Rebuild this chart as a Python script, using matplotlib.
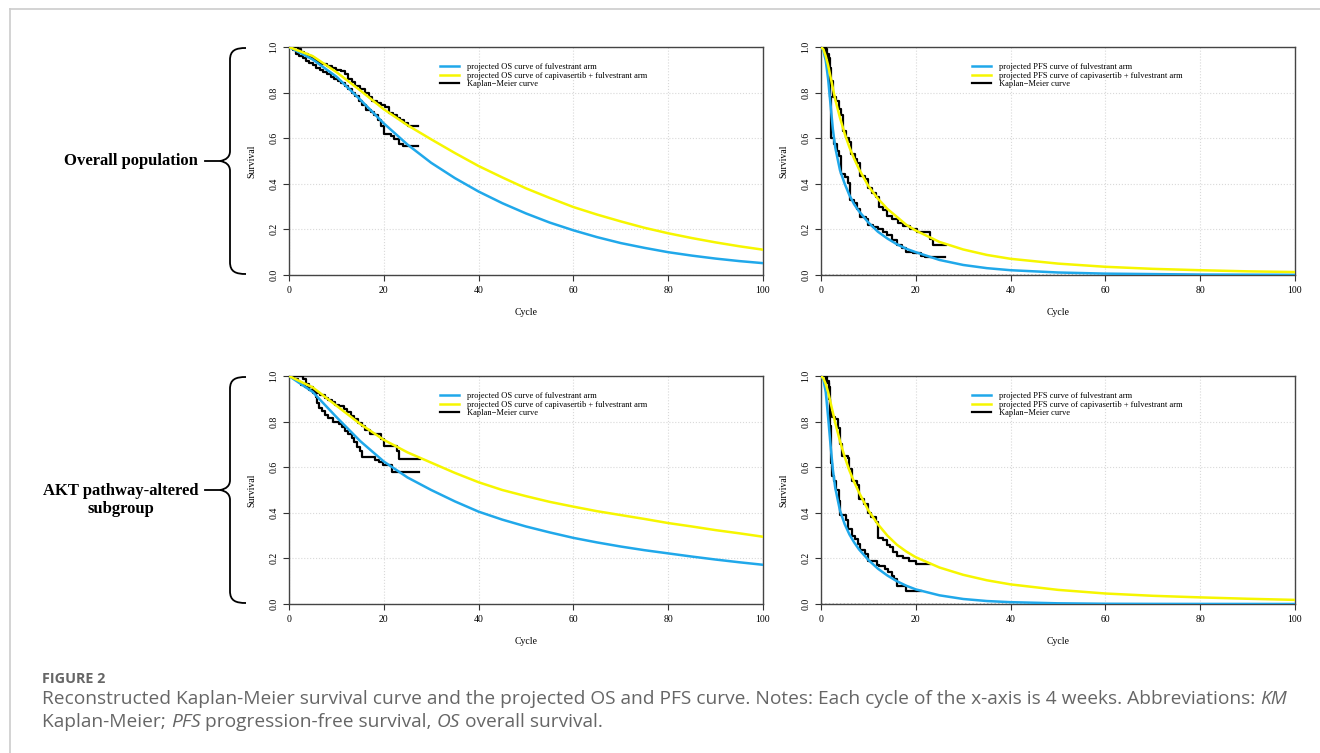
import numpy as np
import matplotlib
matplotlib.use("Agg")
import matplotlib.pyplot as plt
from matplotlib.path import Path
from matplotlib.patches import PathPatch
from matplotlib.lines import Line2D

W, H = 1320, 753

# ---- projected curves ----
os_cycles = list(range(0, 101, 5))
pfs_cycles = [0, 0.5, 1, 1.5, 2, 2.5, 3, 4, 5, 6, 7, 8, 10, 12, 14, 16, 18, 20,
              25, 30, 35, 40, 50, 60, 70, 80, 90, 100]

os_all_fulv = [1.0, 0.945, 0.87, 0.77, 0.665, 0.572, 0.492, 0.425, 0.366, 0.315, 0.27,
               0.23, 0.196, 0.166, 0.14, 0.119, 0.10, 0.085, 0.072, 0.061, 0.052]
os_all_capi = [1.0, 0.96, 0.89, 0.81, 0.727, 0.657, 0.595, 0.535, 0.478, 0.428, 0.38,
               0.338, 0.298, 0.265, 0.235, 0.207, 0.183, 0.162, 0.143, 0.126, 0.111]
os_akt_fulv = [1.0, 0.93, 0.82, 0.715, 0.625, 0.555, 0.50, 0.45, 0.405, 0.37, 0.34,
               0.314, 0.29, 0.27, 0.252, 0.236, 0.222, 0.208, 0.195, 0.183, 0.172]
os_akt_capi = [1.0, 0.95, 0.87, 0.79, 0.72, 0.665, 0.62, 0.575, 0.534, 0.50, 0.473,
               0.448, 0.427, 0.407, 0.39, 0.373, 0.355, 0.34, 0.324, 0.31, 0.295]

pfs_all_fulv = [1.0, 0.985, 0.94, 0.86, 0.75, 0.64, 0.56, 0.46, 0.40, 0.35, 0.31, 0.28,
                0.23, 0.19, 0.16, 0.135, 0.115, 0.10, 0.066, 0.044, 0.03, 0.021, 0.011,
                0.006, 0.004, 0.002, 0.0015, 0.001]
pfs_all_capi = [1.0, 0.99, 0.96, 0.92, 0.87, 0.82, 0.77, 0.69, 0.62, 0.56, 0.51, 0.465,
                0.39, 0.335, 0.29, 0.255, 0.22, 0.195, 0.145, 0.112, 0.088, 0.071, 0.05,
                0.036, 0.027, 0.021, 0.016, 0.013]
pfs_akt_fulv = [1.0, 0.985, 0.93, 0.82, 0.70, 0.59, 0.51, 0.41, 0.35, 0.305, 0.27, 0.24,
                0.193, 0.155, 0.125, 0.10, 0.08, 0.064, 0.038, 0.022, 0.013, 0.008, 0.003,
                0.001, 0.0005, 0.0003, 0.0002, 0.0001]
pfs_akt_capi = [1.0, 0.99, 0.965, 0.93, 0.885, 0.84, 0.795, 0.715, 0.645, 0.585, 0.535,
                0.49, 0.41, 0.35, 0.30, 0.26, 0.23, 0.205, 0.16, 0.128, 0.104, 0.086,
                0.062, 0.046, 0.036, 0.029, 0.023, 0.018]

# ---- reconstructed Kaplan-Meier steps ----
km_os_all_fulv_t = [0, 0.8, 1.5, 2.2, 3.0, 3.6, 4.3, 5.0, 5.8, 6.5, 7.2, 8.0, 8.8, 9.5,
                    10.3, 11.0, 11.8, 12.5, 13.2, 14.0, 14.8, 15.5, 16.3, 17.2, 18.0,
                    18.8, 19.5, 20.0, 21.5, 22.2, 23.3, 24.0, 27.2]
km_os_all_fulv_s = [1.0, 0.985, 0.97, 0.96, 0.95, 0.94, 0.93, 0.92, 0.91, 0.90, 0.89,
                    0.88, 0.87, 0.86, 0.85, 0.84, 0.83, 0.815, 0.80, 0.785, 0.765, 0.745,
                    0.725, 0.715, 0.70, 0.68, 0.655, 0.62, 0.61, 0.595, 0.575, 0.565, 0.565]
km_os_all_capi_t = [0, 1.8, 2.5, 3.2, 4.0, 4.8, 5.5, 6.3, 7.0, 8.0, 9.0, 10.0, 11.0,
                    11.8, 12.5, 13.2, 14.0, 15.0, 16.0, 16.8, 17.5, 18.5, 19.5, 20.3,
                    21.0, 22.0, 22.8, 23.5, 24.3, 25.0, 27.2]
km_os_all_capi_s = [1.0, 0.99, 0.98, 0.97, 0.96, 0.95, 0.94, 0.93, 0.925, 0.915, 0.91,
                    0.90, 0.895, 0.88, 0.86, 0.845, 0.83, 0.815, 0.80, 0.78, 0.765, 0.755,
                    0.745, 0.735, 0.71, 0.70, 0.69, 0.68, 0.665, 0.655, 0.655]
km_os_akt_fulv_t = [0, 1.0, 1.8, 2.6, 3.4, 4.2, 5.0, 5.6, 6.0, 6.4, 6.9, 7.5, 8.3, 9.2,
                    10.5, 11.2, 11.8, 12.5, 13.2, 13.8, 14.4, 15.0, 15.5, 18.2, 19.0,
                    19.8, 21.7, 27.4]
km_os_akt_fulv_s = [1.0, 0.985, 0.975, 0.96, 0.95, 0.94, 0.925, 0.91, 0.88, 0.86, 0.845,
                    0.83, 0.815, 0.80, 0.79, 0.775, 0.76, 0.745, 0.73, 0.71, 0.69, 0.67,
                    0.645, 0.63, 0.625, 0.61, 0.578, 0.578]
km_os_akt_capi_t = [0, 3.0, 3.6, 4.3, 5.0, 5.6, 6.5, 7.5, 8.3, 9.0, 9.8, 10.5, 11.5,
                    12.3, 13.0, 13.8, 14.5, 15.3, 16.0, 17.0, 19.5, 20.0, 22.8, 23.2, 27.6]
km_os_akt_capi_s = [1.0, 0.985, 0.965, 0.95, 0.935, 0.925, 0.915, 0.905, 0.895, 0.885,
                    0.875, 0.87, 0.855, 0.84, 0.825, 0.81, 0.795, 0.78, 0.765, 0.745,
                    0.725, 0.695, 0.67, 0.635, 0.635]

km_pfs_all_fulv_t = [0, 1.0, 1.6, 1.9, 2.2, 2.8, 3.3, 3.8, 4.3, 5.0, 5.8, 6.2, 7.0, 7.7,
                     8.2, 9.5, 10.0, 11.0, 12.0, 13.0, 14.0, 15.0, 16.0, 17.0, 18.0, 19.5,
                     21.0, 22.0, 26.2]
km_pfs_all_fulv_s = [1.0, 0.97, 0.90, 0.78, 0.60, 0.575, 0.545, 0.52, 0.445, 0.43, 0.405,
                     0.33, 0.315, 0.29, 0.255, 0.245, 0.22, 0.21, 0.20, 0.19, 0.175, 0.155,
                     0.13, 0.12, 0.10, 0.095, 0.085, 0.078, 0.078]
km_pfs_all_capi_t = [0, 0.8, 1.3, 1.8, 2.2, 2.6, 3.2, 3.7, 4.2, 4.6, 5.3, 5.9, 6.4, 7.2,
                     7.7, 8.3, 9.2, 10.0, 10.7, 11.5, 12.2, 13.0, 14.0, 15.0, 16.2, 17.3,
                     18.8, 20.3, 23.1, 23.6, 26.3]
km_pfs_all_capi_s = [1.0, 0.99, 0.95, 0.91, 0.85, 0.78, 0.765, 0.73, 0.70, 0.63, 0.60,
                     0.585, 0.53, 0.51, 0.49, 0.435, 0.42, 0.38, 0.36, 0.34, 0.30, 0.285,
                     0.26, 0.245, 0.23, 0.215, 0.20, 0.19, 0.16, 0.13, 0.13]
km_pfs_akt_fulv_t = [0, 1.2, 1.6, 1.9, 2.1, 2.4, 2.8, 3.2, 3.7, 4.0, 5.2, 5.8, 6.5, 7.2,
                     7.8, 8.3, 9.2, 10.0, 11.8, 12.2, 13.5, 14.2, 15.0, 15.5, 16.0, 18.0,
                     21.0]
km_pfs_akt_fulv_s = [1.0, 0.97, 0.90, 0.78, 0.62, 0.56, 0.54, 0.50, 0.45, 0.39, 0.37,
                     0.33, 0.30, 0.285, 0.265, 0.235, 0.22, 0.19, 0.17, 0.165, 0.155, 0.14,
                     0.125, 0.11, 0.08, 0.055, 0.055]
km_pfs_akt_capi_t = [0, 1.0, 1.6, 2.0, 2.4, 3.0, 3.6, 4.0, 4.5, 5.6, 6.0, 6.5, 7.5, 8.0,
                     9.0, 10.0, 10.5, 11.5, 12.0, 13.0, 14.0, 14.6, 15.2, 16.0, 17.3, 18.5,
                     20.0, 23.0]
km_pfs_akt_capi_s = [1.0, 0.98, 0.95, 0.84, 0.82, 0.81, 0.77, 0.70, 0.65, 0.64, 0.59,
                     0.54, 0.52, 0.46, 0.44, 0.40, 0.38, 0.36, 0.29, 0.28, 0.26, 0.25,
                     0.23, 0.21, 0.20, 0.19, 0.175, 0.175]

x_ticks = [0, 20, 40, 60, 80, 100]
y_ticks = [0.0, 0.2, 0.4, 0.6, 0.8, 1.0]
group_labels = ["Overall population", "AKT pathway-altered\nsubgroup"]

BLUE = "#20A8EA"
YELLOW = "#F6F600"
SERIF = "Liberation Serif"
CAP_GREY = "#666666"

fig = plt.figure(figsize=(W / 100, H / 100), dpi=100)


def px_rect(x0, y0, x1, y1):
    return [x0 / W, 1 - y1 / H, (x1 - x0) / W, (y1 - y0) / H]


def panel(rect, kind, xs, fulv, capi, km_f, km_c):
    ax = fig.add_axes(rect)
    ax.step(km_f[0], km_f[1], where="post", color="black", lw=1.6, zorder=3)
    ax.step(km_c[0], km_c[1], where="post", color="black", lw=1.6, zorder=3)
    ax.plot(xs, fulv, color=BLUE, lw=1.8, zorder=4)
    ax.plot(xs, capi, color=YELLOW, lw=1.8, zorder=4)
    if kind == "PFS":
        ax.axhline(0, color="black", ls=":", lw=1.0, zorder=2)
    ax.set_xlim(0, 100)
    ax.set_ylim(0, 1)
    ax.set_xticks(x_ticks)
    ax.set_yticks(y_ticks)
    ax.set_xticklabels([str(v) for v in x_ticks], family=SERIF, fontsize=7)
    ax.set_yticklabels(["%.1f" % v for v in y_ticks], family=SERIF, fontsize=7,
                       rotation=90, va="center")
    ax.tick_params(length=4, width=0.8, color="#333333")
    ax.tick_params(axis="x", pad=4)
    ax.tick_params(axis="y", pad=3.5)
    ax.grid(True, color="#d9d9d9", ls=":", lw=0.8, zorder=0)
    for sp in ax.spines.values():
        sp.set_color("#444444")
        sp.set_linewidth(1.0)
    ax.set_xlabel("Cycle", family=SERIF, fontsize=7)
    ax.set_ylabel("Survival", family=SERIF, fontsize=7)
    ax.xaxis.set_label_coords(0.5, -0.145)
    ax.yaxis.set_label_coords(-0.068, 0.5)
    handles = [Line2D([], [], color=BLUE, lw=1.8),
               Line2D([], [], color=YELLOW, lw=1.8),
               Line2D([], [], color="black", lw=1.6)]
    labels = ["projected %s curve of fulvestrant arm" % kind,
              "projected %s curve of capivasertib + fulvestrant arm" % kind,
              "Kaplan\u2212Meier curve"]
    ax.legend(handles, labels, loc="upper left", bbox_to_anchor=(0.319, 0.929),
              frameon=False, prop={"family": SERIF, "size": 6.1},
              handlelength=2.25, handletextpad=0.95, labelspacing=0.05,
              borderpad=0, borderaxespad=0)
    return ax


panel(px_rect(289, 47, 763, 275), "OS", os_cycles, os_all_fulv, os_all_capi,
      (km_os_all_fulv_t, km_os_all_fulv_s), (km_os_all_capi_t, km_os_all_capi_s))
panel(px_rect(821, 47, 1295, 275), "PFS", pfs_cycles, pfs_all_fulv, pfs_all_capi,
      (km_pfs_all_fulv_t, km_pfs_all_fulv_s), (km_pfs_all_capi_t, km_pfs_all_capi_s))
panel(px_rect(289, 376, 763, 604), "OS", os_cycles, os_akt_fulv, os_akt_capi,
      (km_os_akt_fulv_t, km_os_akt_fulv_s), (km_os_akt_capi_t, km_os_akt_capi_s))
panel(px_rect(821, 376, 1295, 604), "PFS", pfs_cycles, pfs_akt_fulv, pfs_akt_capi,
      (km_pfs_akt_fulv_t, km_pfs_akt_fulv_s), (km_pfs_akt_capi_t, km_pfs_akt_capi_s))


def fx(x):
    return x / W


def fy(y):
    return 1 - y / H


def brace(y0, y1):
    ym = (y0 + y1) / 2
    pts = [(246, y0), (236, y0), (230, y0 + 2), (230, y0 + 12),
           (230, ym - 10),
           (230, ym - 4), (226, ym - 1), (220, ym),
           (226, ym + 1), (230, ym + 4), (230, ym + 10),
           (230, y1 - 12),
           (230, y1 - 2), (236, y1), (246, y1)]
    codes = [Path.MOVETO, Path.CURVE4, Path.CURVE4, Path.CURVE4,
             Path.LINETO,
             Path.CURVE4, Path.CURVE4, Path.CURVE4,
             Path.CURVE4, Path.CURVE4, Path.CURVE4,
             Path.LINETO,
             Path.CURVE4, Path.CURVE4, Path.CURVE4]
    path = Path([(fx(a), fy(b)) for a, b in pts], codes)
    fig.patches.append(PathPatch(path, fc="none", ec="black", lw=1.3,
                                 transform=fig.transFigure))
    fig.lines.append(Line2D([fx(205), fx(221)], [fy(ym), fy(ym)], color="black",
                            lw=1.3, transform=fig.transFigure))
    return ym


ym = brace(48, 274)
fig.text(fx(198), fy(ym), group_labels[0], ha="right", va="center", family=SERIF,
         fontweight="bold", fontsize=12)
ym = brace(377, 603)
fig.text(fx(121), fy(ym + 10), group_labels[1], ha="center", va="center",
         family=SERIF, fontweight="bold", fontsize=12, linespacing=1.15)

# page frame
fig.lines.append(Line2D([fx(10), fx(10)], [fy(9), 0], color="#cccccc", lw=1.2,
                        transform=fig.transFigure))
fig.lines.append(Line2D([fx(10), 1], [fy(9), fy(9)], color="#cccccc", lw=1.2,
                        transform=fig.transFigure))

# caption
renderer = fig.canvas.get_renderer()


def text_width(s, size, style, weight="normal"):
    t = fig.text(0, 0, "|" + s + "|", fontsize=size, style=style, family="Open Sans",
                 fontweight=weight)
    t2 = fig.text(0, 0, "||", fontsize=size, style=style, family="Open Sans",
                  fontweight=weight)
    w = t.get_window_extent(renderer).width - t2.get_window_extent(renderer).width
    t.remove()
    t2.remove()
    return w


def draw_runs(x0, y0, runs, size, color):
    x = x0
    for s, style in runs:
        fig.text(fx(x), fy(y0), s, fontsize=size, style=style, family="Open Sans",
                 color=color, va="center")
        x += text_width(s, size, style)


line1 = [("Reconstructed Kaplan-Meier survival curve and the projected OS and PFS curve. "
          "Notes: Each cycle of the x-axis is 4 weeks. Abbreviations: ", "normal"),
         ("KM", "italic")]
line2 = [("Kaplan-Meier; ", "normal"), ("PFS", "italic"),
         (" progression-free survival, ", "normal"), ("OS", "italic"),
         (" overall survival.", "normal")]

w1 = sum(text_width(s, 12, st) for s, st in line1)
cap_size = 12 * 1240 / w1
draw_runs(42, 699, line1, cap_size, CAP_GREY)
draw_runs(42, 722, line2, cap_size, CAP_GREY)

wf = text_width("FIGURE 2", 10, "normal", "bold")
fig.text(fx(42), fy(679), "FIGURE 2", fontsize=10 * 63 / wf, family="Open Sans",
         fontweight="bold", color=CAP_GREY, va="center")

fig.savefig("out.png", dpi=100)
